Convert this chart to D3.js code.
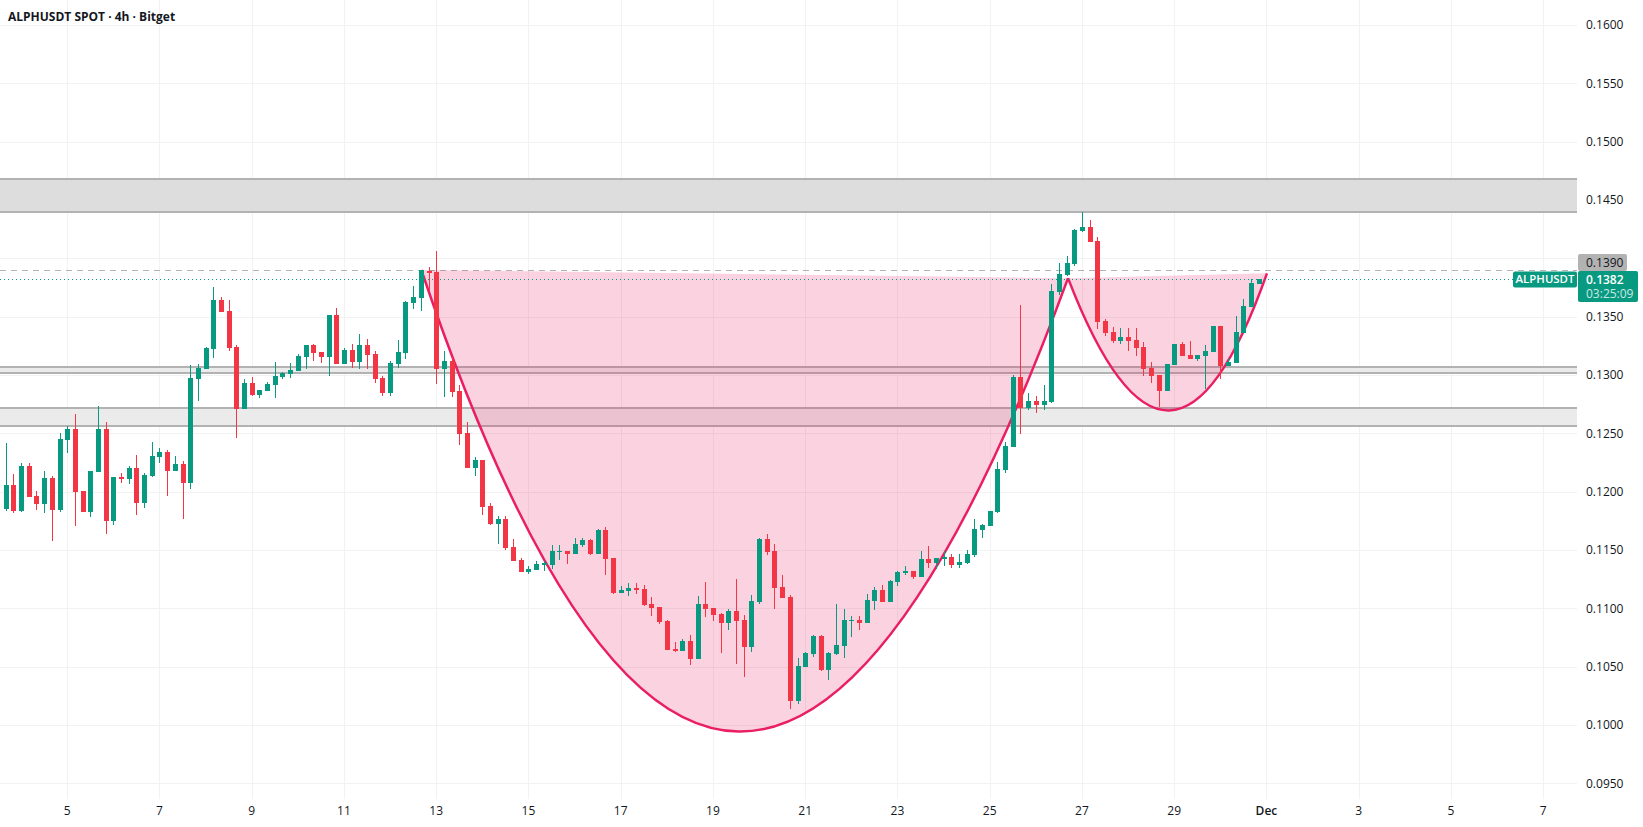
<!DOCTYPE html>
<html>
<head>
<meta charset="utf-8">
<title>ALPHUSDT SPOT</title>
<script src="https://cdn.jsdelivr.net/npm/d3@7"></script>
<style>
  html, body { margin: 0; padding: 0; background: #fff; }
  svg { display: block; font-family: "Open Sans", sans-serif; }
</style>
</head>
<body>
<div id="chart"></div>
<script>
// 4h candles, first bar opens 3 Nov 16:00
const firstBar = Date.UTC(2024, 10, 3, 16);
const barMs = 4 * 3600 * 1000;

const opens = [
  .11851,.12057,.11834,.12220,.11963,.11894,.12117,.11843,.12443,.12537,
  .12005,.11825,.12168,.12537,.11748,.12125,.12108,.12203,.11903,.12134,
  .12297,.12340,.12177,.12237,.12074,.12965,.13051,.13223,.13643,.13548,
  .13240,.12708,.12931,.12828,.12863,.12914,.12983,.13008,.13034,.13154,
  .13257,.13197,.13154,.13514,.13094,.13214,.13111,.13257,.13180,.12974,
  .12845,.13094,.13188,.13617,.13660,.13891,.13883,.13051,.13120,.12863,
  .12503,.12203,.12271,.11877,.11723,.11765,.11525,.11414,.11311,.11328,
  .11374,.11371,.11483,.11491,.11465,.11543,.11585,.11465,.11671,.11431,
  .11131,.11148,.11174,.11165,.11037,.11011,.10891,.10651,.10634,.10720,
  .10565,.11037,.11003,.10951,.10874,.10977,.10900,.10668,.11054,.11594,
  .11491,.11183,.11097,.10205,.10497,.10608,.10763,.10471,.10608,.10677,
  .10891,.10900,.10874,.11063,.11157,.11054,.11225,.11303,.11320,.11268,
  .11423,.11388,.11423,.11440,.11371,.11388,.11457,.11671,.11705,.11825,
  .12185,.12383,.12983,.12717,.12777,.12743,.12768,.13711,.13857,.13951,
  .14234,.14268,.14148,.13463,.13368,.13291,.13325,.13300,.13240,.13060,
  .13000,.12863,.13085,.13265,.13171,.13137,.13163,.13197,.13420,.13077,
  .13103,.13360,.13583,.13780
];
const highs = [
  .12417,.12151,.12245,.12245,.12005,.12177,.12134,.12503,.12563,.12665,
  .12005,.12177,.12734,.12597,.12125,.12160,.12220,.12314,.12160,.12425,
  .12374,.12357,.12305,.12263,.13085,.13094,.13240,.13754,.13668,.13643,
  .13257,.12965,.12983,.12871,.12940,.13111,.13025,.13103,.13180,.13257,
  .13265,.13197,.13514,.13574,.13231,.13265,.13351,.13308,.13205,.12991,
  .13120,.13300,.13634,.13763,.13900,.13926,.14063,.13205,.13154,.12914,
  .12597,.12297,.12271,.11903,.11791,.11791,.11594,.11431,.11363,.11405,
  .11405,.11543,.11543,.11491,.11603,.11603,.11594,.11680,.11697,.11431,
  .11191,.11217,.11217,.11200,.11097,.11011,.10900,.10711,.10737,.10771,
  .11105,.11225,.11003,.10960,.10994,.11251,.10943,.11114,.11603,.11637,
  .11551,.11285,.11114,.10574,.10623,.10771,.10771,.10625,.11037,.10994,
  .10934,.10934,.11123,.11183,.11200,.11243,.11320,.11363,.11320,.11491,
  .11534,.11431,.11491,.11465,.11465,.11500,.11765,.11723,.11834,.12254,
  .12425,.13000,.13600,.12845,.12820,.12914,.13780,.13960,.14020,.14251,
  .14397,.14328,.14183,.13480,.13411,.13403,.13403,.13403,.13283,.13111,
  .13000,.13094,.13265,.13283,.13291,.13171,.13257,.13420,.13420,.13145,
  .13505,.13651,.13823,.13820
];
const lows = [
  .11834,.11817,.11825,.11954,.11843,.11817,.11577,.11825,.12331,.11705,
  .11825,.11783,.12168,.11637,.11714,.12074,.12065,.11800,.11860,.12125,
  .12245,.11963,.12177,.11765,.12023,.12777,.13051,.13145,.13540,.13205,
  .12460,.12708,.12820,.12803,.12863,.12803,.12965,.12974,.13034,.13051,
  .13120,.13103,.12991,.13094,.13094,.13060,.13051,.13051,.12931,.12820,
  .12820,.13060,.13137,.13565,.13548,.13720,.12923,.12811,.12811,.12400,
  .12203,.12134,.11800,.11714,.11551,.11500,.11405,.11311,.11294,.11328,
  .11320,.11337,.11414,.11380,.11465,.11525,.11457,.11465,.11285,.11123,
  .11131,.11105,.11123,.11020,.10934,.10865,.10643,.10625,.10634,.10514,
  .10565,.10925,.10891,.10617,.10814,.10523,.10411,.10625,.11037,.11457,
  .10994,.11088,.10137,.10180,.10497,.10583,.10463,.10385,.10600,.10574,
  .10754,.10814,.10874,.10985,.11054,.11054,.11191,.11285,.11251,.11268,
  .11345,.11337,.11363,.11345,.11345,.11380,.11440,.11603,.11705,.11817,
  .12160,.12383,.12494,.12700,.12674,.12700,.12760,.13685,.13848,.13934,
  .14225,.14140,.13394,.13334,.13274,.13265,.13205,.13163,.12991,.12931,
  .12723,.12863,.13085,.13163,.13137,.13120,.12880,.13197,.12965,.13077,
  .13103,.13360,.13583,.13780
];
const closes = [
  .12057,.11834,.12220,.11954,.11894,.12117,.11843,.12451,.12537,.11997,
  .11825,.12177,.12537,.11748,.12125,.12108,.12203,.11903,.12143,.12305,
  .12340,.12177,.12237,.12074,.12974,.13060,.13231,.13643,.13540,.13231,
  .12708,.12931,.12828,.12871,.12923,.12991,.13017,.13043,.13163,.13257,
  .13188,.13154,.13514,.13094,.13214,.13111,.13257,.13171,.12965,.12845,
  .13103,.13197,.13625,.13668,.13897,.13874,.13051,.13120,.12854,.12494,
  .12203,.12271,.11868,.11723,.11765,.11517,.11405,.11311,.11337,.11380,
  .11385,.11491,.11491,.11465,.11551,.11585,.11465,.11671,.11423,.11131,
  .11157,.11174,.11157,.11028,.11003,.10883,.10643,.10634,.10720,.10565,
  .11037,.10994,.10943,.10874,.10977,.10891,.10668,.11063,.11594,.11483,
  .11174,.11088,.10205,.10505,.10617,.10763,.10471,.10617,.10685,.10900,
  .10900,.10874,.11071,.11157,.11054,.11234,.11311,.11320,.11268,.11423,
  .11388,.11431,.11440,.11371,.11397,.11465,.11680,.11714,.11834,.12194,
  .12391,.12983,.12717,.12777,.12743,.12777,.13720,.13865,.13960,.14243,
  .14268,.14140,.13454,.13360,.13291,.13325,.13291,.13231,.13051,.12991,
  .12863,.13094,.13265,.13163,.13137,.13171,.13205,.13420,.13077,.13111,
  .13368,.13591,.13788,.13820
];

// axis labels
const priceTicks = [.16,.155,.15,.145,.14,.135,.13,.125,.12,.115,.11,.105,.1,.095];
const dateTicks = [
  [2024,10,5,"5"],[2024,10,7,"7"],[2024,10,9,"9"],[2024,10,11,"11"],[2024,10,13,"13"],
  [2024,10,15,"15"],[2024,10,17,"17"],[2024,10,19,"19"],[2024,10,21,"21"],[2024,10,23,"23"],
  [2024,10,25,"25"],[2024,10,27,"27"],[2024,10,29,"29"],[2024,11,1,"Dec"],[2024,11,3,"3"],
  [2024,11,5,"5"],[2024,11,7,"7"]
];

// grey zones drawn on the chart, [upper, lower] price
const zones = [[.14677,.14393],[.13068,.13017],[.12717,.12563]];
const zoneFills = ["#d9d9d9","#ebebeb","#ebebeb"];

// cup and handle arcs: start, end, control as [date, price]
const cupArc = [[Date.UTC(2024,10,12,16),.13900],[Date.UTC(2024,10,26,16,30),.13830],[Date.UTC(2024,10,19,10),.06022]];
const handleArc = [[Date.UTC(2024,10,26,16,30),.13830],[Date.UTC(2024,11,1,0),.13871],[Date.UTC(2024,10,28,22),.11541]];

const lastPrice = .1382;
const levelPrice = .13897;
const levelLabel = "0.1390";
const countdown = "03:25:09";

const width = 1643, height = 827, plotRight = 1577, plotBottom = 799;
const green = "#089981", red = "#f23645", gridColor = "#f2f2f2", textColor = "#131722";

const x = d3.scaleUtc()
  .domain([Date.UTC(2024,10,5), Date.UTC(2024,11,7)])
  .range([67.7, 1543.7]);
const y = d3.scaleLinear()
  .domain([.095, .16])
  .range([783.3, 25]);

const bars = opens.map((o, i) => ({
  t: firstBar + i * barMs, o, h: highs[i], l: lows[i], c: closes[i]
}));

const svg = d3.select("#chart").append("svg")
  .attr("width", width).attr("height", height)
  .attr("viewBox", [0, 0, width, height]);

// grid
svg.append("g").selectAll("line").data(priceTicks).join("line")
  .attr("x1", 0).attr("x2", plotRight)
  .attr("y1", d => Math.round(y(d)) + .5).attr("y2", d => Math.round(y(d)) + .5)
  .attr("stroke", gridColor);
svg.append("g").selectAll("line").data(dateTicks).join("line")
  .attr("x1", d => Math.floor(x(Date.UTC(d[0], d[1], d[2]))) + .5)
  .attr("x2", d => Math.floor(x(Date.UTC(d[0], d[1], d[2]))) + .5)
  .attr("y1", 0).attr("y2", plotBottom)
  .attr("stroke", gridColor);

// zones
const zoneG = svg.append("g");
zones.forEach((z, i) => {
  zoneG.append("rect")
    .attr("x", 0).attr("width", plotRight)
    .attr("y", y(z[0])).attr("height", y(z[1]) - y(z[0]))
    .attr("fill", zoneFills[i]).attr("fill-opacity", i == 0 ? .9 : 1);
  z.forEach(p => {
    zoneG.append("rect")
      .attr("x", 0).attr("width", plotRight)
      .attr("y", Math.round(y(p)) - 1).attr("height", 2)
      .attr("fill", "#b2b2b2");
  });
});

// level lines
svg.append("line")
  .attr("x1", 0).attr("x2", plotRight)
  .attr("y1", Math.round(y(levelPrice)) + .5).attr("y2", Math.round(y(levelPrice)) + .5)
  .attr("stroke", "#b2b2b2").attr("stroke-dasharray", "6 5");

function arcPath(a) {
  const p = d3.path();
  p.moveTo(x(a[0][0]), y(a[0][1]));
  p.quadraticCurveTo(x(a[2][0]), y(a[2][1]), x(a[1][0]), y(a[1][1]));
  return p.toString();
}

// arcs go under the candles
svg.append("g").selectAll("path").data([cupArc, handleArc]).join("path")
  .attr("d", arcPath)
  .attr("fill", "#e91e63").attr("fill-opacity", .2)
  .attr("stroke", "#e91e63").attr("stroke-width", 2.5);

svg.append("line")
  .attr("x1", 0).attr("x2", 1513)
  .attr("y1", Math.round(y(lastPrice)) + .5).attr("y2", Math.round(y(lastPrice)) + .5)
  .attr("stroke", green).attr("stroke-dasharray", "1 3");

// candles
const candles = svg.append("g").attr("shape-rendering", "crispEdges")
  .selectAll("g").data(bars).join("g")
  .attr("fill", d => d.c >= d.o ? green : red);
candles.append("rect")
  .attr("x", d => Math.floor(x(d.t)))
  .attr("width", 1)
  .attr("y", d => Math.round(y(d.h)))
  .attr("height", d => Math.round(y(d.l)) - Math.round(y(d.h)));
candles.append("rect")
  .attr("x", d => Math.floor(x(d.t)) - 2)
  .attr("width", 5)
  .attr("y", d => Math.round(y(Math.max(d.o, d.c))))
  .attr("height", d => Math.max(1, Math.round(y(Math.min(d.o, d.c))) - Math.round(y(Math.max(d.o, d.c)))));

// price axis, 0.1400 sits under the grey label in the original
const yAxis = d3.axisRight(y)
  .tickValues(priceTicks.filter(d => d != .14))
  .tickSize(0).tickPadding(0)
  .tickFormat(d3.format(".4f"));
svg.append("g")
  .attr("transform", `translate(1586,0)`)
  .call(yAxis)
  .call(g => g.select(".domain").remove())
  .call(g => g.selectAll("text").attr("font-size", 12).attr("font-family", "Open Sans").attr("fill", textColor));

// time axis
const xAxis = d3.axisBottom(x)
  .tickValues(dateTicks.map(d => new Date(Date.UTC(d[0], d[1], d[2]))))
  .tickSize(0).tickPadding(0)
  .tickFormat((d, i) => dateTicks[i][3]);
svg.append("g")
  .attr("transform", `translate(-1,806)`)
  .call(xAxis)
  .call(g => g.select(".domain").remove())
  .call(g => g.selectAll("text")
    .attr("font-size", 12).attr("font-family", "Open Sans").attr("fill", textColor)
    .attr("font-weight", (d, i) => dateTicks[i][3] == "Dec" ? 600 : 400));

// title
svg.append("text")
  .attr("x", 8).attr("y", 21)
  .attr("font-size", 12).attr("font-weight", 700).attr("fill", textColor)
  .text("ALPHUSDT SPOT · 4h · Bitget");

// price labels on the right
svg.append("rect")
  .attr("x", 1578).attr("y", 254).attr("width", 49).attr("height", 17).attr("rx", 2)
  .attr("fill", "#b2b2b2");
svg.append("text")
  .attr("x", 1586).attr("y", 263).attr("dy", ".34em")
  .attr("font-size", 12).attr("fill", textColor).text(levelLabel);

svg.append("rect")
  .attr("x", 1513).attr("y", 271.5).attr("width", 64).attr("height", 16).attr("rx", 2)
  .attr("fill", green);
svg.append("text")
  .attr("x", 1545).attr("y", 279.5).attr("dy", ".35em").attr("text-anchor", "middle")
  .attr("font-size", 11.4).attr("font-weight", 600).attr("fill", "#fff").text("ALPHUSDT");

svg.append("rect")
  .attr("x", 1578).attr("y", 271).attr("width", 60).attr("height", 31).attr("rx", 2)
  .attr("fill", green);
svg.append("text")
  .attr("x", 1586).attr("y", 279.5).attr("dy", ".35em")
  .attr("font-size", 12).attr("font-weight", 600).attr("fill", "#fff").text(lastPrice.toFixed(4));
svg.append("text")
  .attr("x", 1586).attr("y", 294).attr("dy", ".35em")
  .attr("font-size", 12).attr("fill", "#fff").attr("fill-opacity", .8).text(countdown);
</script>
</body>
</html>
